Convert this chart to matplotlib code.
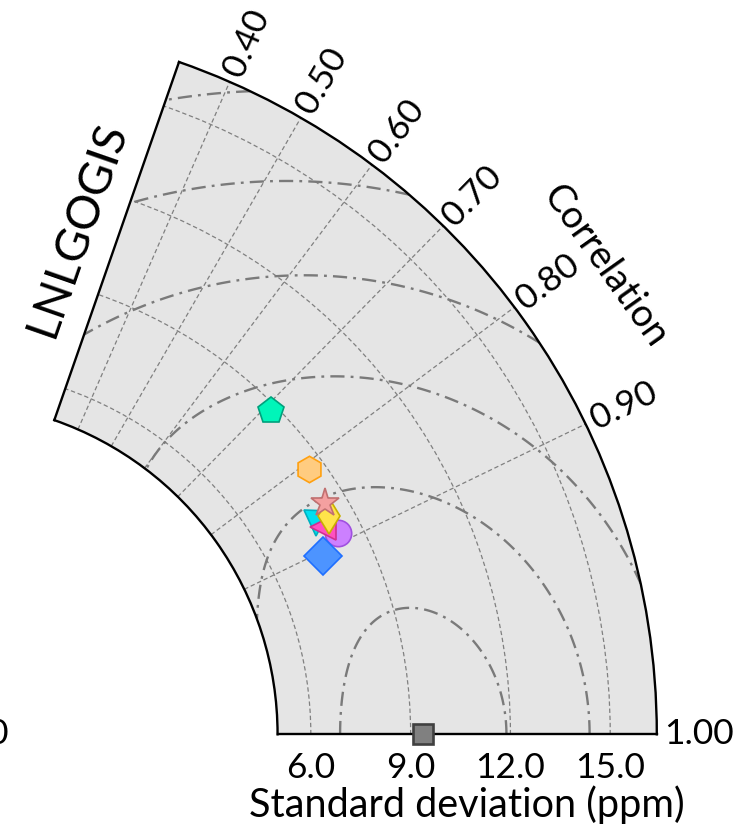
import numpy as np
import matplotlib
matplotlib.use("Agg")
import matplotlib.pyplot as plt
from matplotlib import transforms

plt.rcParams['font.family'] = ['Lato', 'DejaVu Sans']

# ---------------- data ----------------
model_name = "LNLGOGIS"
ref_std = 9.38
model_std = [8.82, 8.56, 8.27, 7.57, 7.82, 7.97, 8.28, 8.38]
model_corr = [0.710, 0.808, 0.890, 0.905, 0.869, 0.877, 0.870, 0.855]
corr_ticks = [0.40, 0.50, 0.60, 0.70, 0.80, 0.90, 1.00]
std_ticks = [6.0, 9.0, 12.0, 15.0]
rms_levels = [2.5, 5.0, 7.5, 10.0, 12.5, 15.0]

# ---------------- styles ----------------
markers = ['p', 'h', 'o', 'D', 'v', '<', 'd', '*']
faces = ['#00f5b9', '#ffcc80', '#cc80ff', '#4d94ff', '#00e0f0', '#ff50c0', '#ffe44a', '#f4a0a0']
edges = ['#00a07c', '#ffa010', '#a050e0', '#1f6fff', '#00b0c0', '#d03090', '#c8b000', '#c07070']
sizes = [20, 19, 19, 19.5, 18, 19, 18, 21]

rmin, rmax, rorig = 5.0, 16.4, -5.0
thmax_deg = 70.8

fig = plt.figure(figsize=(7.39, 8.32), dpi=100)
W, H = 739, 832
side = 672.3
ax = fig.add_axes([19.4 / W, (H - 734.3) / H, side / W, side / H], projection='polar')
ax.set_thetamin(0)
ax.set_thetamax(thmax_deg)
ax.set_ylim(rmin, rmax)
ax.set_rorigin(rorig)
ax.set_facecolor('#e5e5e5')

# grids
grid_angles = np.degrees(np.arccos(corr_ticks[:-1]))
ax.set_thetagrids(grid_angles, labels=[''] * len(grid_angles))
ax.set_rticks(std_ticks)
ax.set_yticklabels([])
ax.tick_params(length=0)
ax.xaxis.grid(True, color='#808080', linestyle=(0, (3.5, 2.2)), linewidth=0.9)
ax.yaxis.grid(True, color='#808080', linestyle=(0, (3.5, 2.2)), linewidth=0.9)
for s in ax.spines.values():
    s.set_color('black')
    s.set_linewidth(1.7)

# RMS contours
T, R = np.meshgrid(np.linspace(0, np.radians(thmax_deg), 400), np.linspace(rmin, rmax, 400))
rms = np.sqrt(R ** 2 + ref_std ** 2 - 2 * R * ref_std * np.cos(T))
ax.contour(T, R, rms, levels=rms_levels, colors='#7a7a7a',
           linestyles=[(0, (6, 2.6, 1.2, 2.6))], linewidths=1.7, zorder=2)

# reference point
ax.plot([0], [ref_std], marker='s', ms=15, mfc='#808080', mec='#404040', mew=1.9,
        linestyle='none', clip_on=False, zorder=10)

# models
for s, c, m, fc, ec, ms in zip(model_std, model_corr, markers, faces, edges, sizes):
    ax.plot([np.arccos(c)], [s], marker=m, ms=ms, mfc=fc, mec=ec, mew=1.2,
            linestyle='none', clip_on=False, zorder=5)

# correlation labels
for c in corr_ticks:
    th = np.arccos(c)
    ax.text(th, 16.62, f"{c:.2f}", rotation=np.degrees(th), rotation_mode='anchor',
            ha='left', va='center', fontsize=25.5)

ax.text(np.radians(35.35), 19.34, "Correlation", rotation=35.35 - 90,
        rotation_mode='anchor', ha='center', va='center', fontsize=27.5)

# std tick labels
off = transforms.ScaledTranslation(0, -18 / 100, fig.dpi_scale_trans)
for s in std_ticks:
    ax.text(0, s, f"{s:.1f}", transform=ax.transData + off, ha='center', va='top', fontsize=25.5)

off2 = transforms.ScaledTranslation(0, -51 / 100, fig.dpi_scale_trans)
ax.text(0, (rmin + rmax) / 2, "Standard deviation (ppm)", transform=ax.transData + off2,
        ha='center', va='top', fontsize=28.5)

ax.text(np.radians(75.3), 10.7, model_name, rotation=thmax_deg, rotation_mode='anchor',
        ha='center', va='center', fontsize=33)

fig.text(9 / W, 1 - 734 / H, "0.00", ha='right', va='center', fontsize=25.5)

fig.savefig("out.png", dpi=100)
